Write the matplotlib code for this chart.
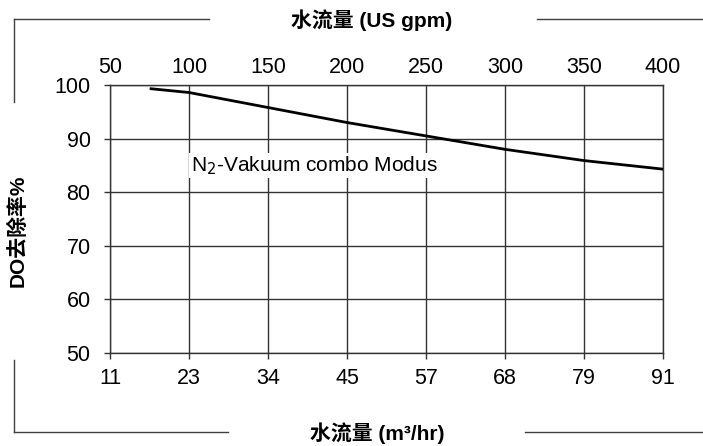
import numpy as np
import matplotlib
matplotlib.use('Agg')
import matplotlib.pyplot as plt
from matplotlib.lines import Line2D

plt.rcParams['font.family'] = ['Liberation Sans', 'Noto Sans CJK SC', 'DejaVu Sans']

# data (flow in US gpm, DO removal in %)
flow_gpm = [76, 100, 150, 200, 250, 300, 350, 400]
do_removal = [99.3, 98.6, 95.8, 93.0, 90.5, 88.0, 85.9, 84.3]

gpm_ticks = [50, 100, 150, 200, 250, 300, 350, 400]
m3h_labels = ['11', '23', '34', '45', '57', '68', '79', '91']
y_ticks = [50, 60, 70, 80, 90, 100]

series_label = 'N$_2$-Vakuum combo Modus'
top_title = '水流量 (US gpm)'
bottom_title = '水流量 (m³/hr)'
y_title = 'DO去除率%'

fig = plt.figure(figsize=(7.03, 4.46), dpi=100)
ax = fig.add_axes([110/703, 1-353/446, 553/703, 268/446])

grid_c = '#333333'
ax.plot(flow_gpm, do_removal, color='black', lw=2.0, zorder=3)
ax.set_xlim(50, 400)
ax.set_ylim(50, 100)
ax.set_xticks(gpm_ticks)
ax.set_xticklabels(m3h_labels)
ax.set_yticks(y_ticks)
ax.grid(True, color=grid_c, lw=1.0)
ax.tick_params(axis='both', direction='out', length=4, width=1.0, color=grid_c,
               labelsize=15.5)
ax.tick_params(axis='y', pad=10)
ax.tick_params(axis='x', pad=7)
for s in ax.spines.values():
    s.set_color(grid_c)
    s.set_linewidth(1.0)

ax2 = ax.twiny()
ax2.set_xlim(50, 400)
ax2.set_xticks(gpm_ticks)
ax2.set_xticklabels([str(t) for t in gpm_ticks])
ax2.tick_params(axis='x', length=0, labelsize=15.5, pad=5)
for s in ax2.spines.values():
    s.set_visible(False)

ax.text(101, 85.0, series_label, fontsize=15, va='center', ha='left',
        bbox=dict(facecolor='white', edgecolor='none', pad=1), zorder=4)

# axis titles
fig.text(372/703, 1-20/446, top_title, fontsize=15, fontweight='bold',
         ha='center', va='center')
fig.text(377/703, 1-433/446, bottom_title, fontsize=15, fontweight='bold',
         ha='center', va='center')
fig.text(18/703, 1-231/446, y_title, fontsize=15, fontweight='bold',
         ha='center', va='center', rotation=90)

# bracket lines around the chart
line_c = '#404040'
def fline(x0, y0, x1, y1):
    fig.add_artist(Line2D([x0/703, x1/703], [1-y0/446, 1-y1/446],
                          color=line_c, lw=1.0))

fline(14, 19, 209, 19)
fline(14, 19, 14, 102)
fline(537, 19, 702, 19)
fline(14, 360, 14, 432)
fline(14, 432, 228, 432)
fline(525, 432, 702, 432)

fig.savefig('out.png', dpi=100)
